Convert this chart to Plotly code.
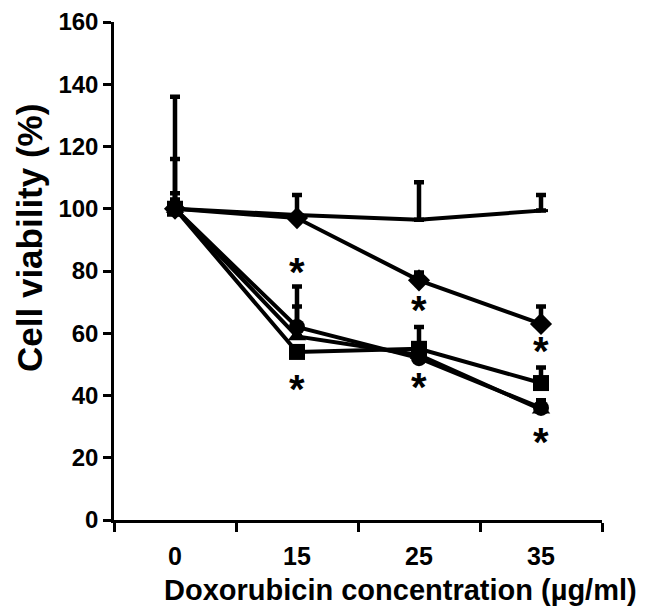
import plotly.graph_objects as go

categories = ["0", "15", "25", "35"]

ctrl = [100, 98, 96.5, 99.4]
ctrl_err = [3, 6.4, 12, 5]

diamond = [100, 97, 77, 63]
diamond_err = [5, 0, 2.5, 5.6]

square = [100, 54, 55, 44]
square_err = [16, 0, 7, 5]

circle = [100, 62, 52, 36]
circle_err = [36, 13, 3, 2]

triangle = [100, 59, 53, 35.5]
triangle_err = [2, 9.6, 3, 3]

star_x = [1, 1, 2, 2, 3, 3]
star_y = [81, 43.3, 68.6, 43.9, 55.5, 26.5]

y_ticks = [0, 20, 40, 60, 80, 100, 120, 140, 160]

FONT = "Liberation Sans, Arial, sans-serif"

W, H = 651, 610
M_L, M_R, M_T, M_B = 106, 57, 14, 98

fig = go.Figure()

def add_series(y, err, symbol, size):
    fig.add_trace(go.Scatter(
        x=categories, y=y, mode="lines+markers",
        line=dict(color="black", width=4),
        marker=dict(symbol=symbol, size=size, color="black",
                    line=dict(color="black", width=3 if symbol == "line-ew" else 0)),
        error_y=dict(type="data", symmetric=False, array=err,
                     arrayminus=[0] * len(err), color="black",
                     thickness=4.5, width=5),
        showlegend=False,
    ))

add_series(circle, circle_err, "circle", 16)
add_series(triangle, triangle_err, "triangle-up", 16)
add_series(square, square_err, "square", 16)
add_series(diamond, diamond_err, "diamond", 17)
add_series(ctrl, ctrl_err, "line-ew", 10)

for sx, sy in zip(star_x, star_y):
    fig.add_annotation(x=sx, y=sy, xref="x", yref="y", text="<b>*</b>",
                       showarrow=False,
                       font=dict(family=FONT, size=40, color="black"),
                       yshift=-4)

plot_w = W - M_L - M_R
plot_h = H - M_T - M_B

# x-axis title
title_px_x, title_px_y = 392, 582
fig.add_annotation(x=(title_px_x - M_L) / plot_w,
                   y=(H - M_B - title_px_y) / plot_h,
                   xref="paper", yref="paper",
                   text="<b>Doxorubicin concentration (µg/ml)</b>",
                   showarrow=False, xanchor="center", yanchor="middle",
                   font=dict(family=FONT, size=29, color="black"))

# y-axis title
ytitle_px_x, ytitle_px_y = 22, 230
fig.add_annotation(x=(ytitle_px_x - M_L) / plot_w,
                   y=(H - M_B - ytitle_px_y) / plot_h,
                   xref="paper", yref="paper", textangle=-90,
                   text="<b>Cell viability (%)</b>",
                   showarrow=False, xanchor="center", yanchor="middle",
                   font=dict(family=FONT, size=35, color="black"))

fig.update_layout(
    width=W, height=H,
    margin=dict(l=M_L, r=M_R, t=M_T, b=M_B),
    paper_bgcolor="white", plot_bgcolor="white",
    font=dict(family=FONT, color="black"),
)

fig.update_xaxes(
    type="category", range=[-0.5, 3.5], automargin=False,
    showline=True, linecolor="black", linewidth=2.5,
    ticks="outside", ticklen=9, tickwidth=2.5, tickcolor="black",
    tickson="boundaries", ticklabelstandoff=12,
    showgrid=False, zeroline=False,
    tickfont=dict(family=FONT, size=25, color="black", weight="bold"),
)

fig.update_yaxes(
    range=[0, 160], tickvals=y_ticks, automargin=False,
    showline=True, linecolor="black", linewidth=2.5,
    ticks="outside", ticklen=8, tickwidth=2.5, tickcolor="black",
    ticklabeloverflow="allow",
    showgrid=False, zeroline=False,
    tickfont=dict(family=FONT, size=24, color="black", weight="bold"),
)

fig.write_html("out.html")
